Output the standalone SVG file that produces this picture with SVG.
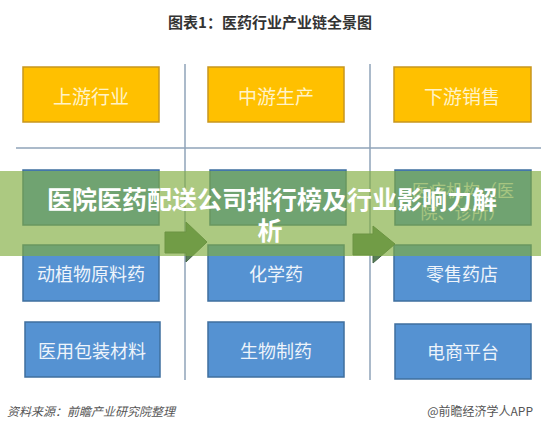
<svg xmlns="http://www.w3.org/2000/svg" width="541" height="430" viewBox="0 0 541 430">
<style>
.cjk{font-family:"Noto Sans CJK SC","Noto Sans",sans-serif}
.title{font-size:15px;font-weight:bold;fill:#333}
.yb{fill:#FFC000;stroke:#C8961E;stroke-width:1.5}
.bb{fill:#5592D2;stroke:#3F6F9E;stroke-width:1.5}
.yt{font-size:19px;fill:#FFF3C8;text-anchor:middle;dominant-baseline:central}
.bt{font-size:18px;fill:#EEF4FB;text-anchor:middle;dominant-baseline:central}
.ln{stroke:#8FA3B8;stroke-width:1.5;fill:none}
.arrow{fill:#587F56;stroke:#46674A;stroke-width:1}
.foot{font-size:12px;fill:#555}
.ov{font-size:25px;font-weight:bold;fill:#fff;text-anchor:middle}
</style>
<rect width="541" height="430" fill="#fff"/>
<text class="cjk title" x="270" y="28" text-anchor="middle">图表1：医药行业产业链全景图</text>
<g id="grid">
<line class="ln" x1="185" y1="64" x2="185" y2="380"/>
<line class="ln" x1="370" y1="64" x2="370" y2="380"/>
<line class="ln" x1="16" y1="148" x2="541" y2="148"/>
</g>
<g id="n-upstream"><rect class="yb" x="23" y="67" width="136" height="55"/><text class="cjk yt" x="91" y="95">上游行业</text></g>
<g id="n-midstream"><rect class="yb" x="208" y="67" width="136" height="55"/><text class="cjk yt" x="276" y="95">中游生产</text></g>
<g id="n-downstream"><rect class="yb" x="394" y="67" width="137" height="55"/><text class="cjk yt" x="462" y="95">下游销售</text></g>
<g id="n-r2c1"><rect class="bb" x="23" y="170" width="136" height="55"/></g>
<g id="n-r2c2"><rect class="bb" x="210" y="170" width="136" height="55"/></g>
<g id="n-r2c3"><rect class="bb" x="395" y="170" width="136" height="55"/><text class="cjk" x="463" y="189" font-size="17" fill="#EEF4FB" text-anchor="middle" dominant-baseline="central">医疗机构（医</text><text class="cjk" x="463" y="211" font-size="17" fill="#EEF4FB" text-anchor="middle" dominant-baseline="central">院、诊所）</text></g>
<g id="n-api"><rect class="bb" x="23" y="245" width="136" height="56"/><text class="cjk bt" x="91" y="273">动植物原料药</text></g>
<g id="n-chem"><rect class="bb" x="208" y="245" width="136" height="56"/><text class="cjk bt" x="276" y="273">化学药</text></g>
<g id="n-retail"><rect class="bb" x="394" y="245" width="137" height="56"/><text class="cjk bt" x="462" y="273">零售药店</text></g>
<g id="n-pack"><rect class="bb" x="25" y="322" width="135" height="55"/><text class="cjk bt" x="92" y="350">医用包装材料</text></g>
<g id="n-bio"><rect class="bb" x="208" y="322" width="136" height="55"/><text class="cjk bt" x="276" y="350">生物制药</text></g>
<g id="n-ecom"><rect class="bb" x="395" y="324" width="136" height="55"/><text class="cjk bt" x="463" y="351">电商平台</text></g>
<g id="connectors">
<path class="arrow" d="M165,232 H186 V222 L207,242 L186,262 V253 H165 Z"/>
<path class="arrow" d="M353,234 H373 V226 L395,244 L373,263 V255 H353 Z"/>
</g>
<g id="overlay">
<rect x="0" y="171" width="541" height="85" fill="rgb(128,172,62)" fill-opacity="0.65"/>
<text class="cjk ov" x="272" y="209">医院医药配送公司排行榜及行业影响力解</text>
<text class="cjk ov" x="270" y="240">析</text>
</g>
<text class="cjk foot" x="7" y="416" font-style="italic">资料来源：前瞻产业研究院整理</text>
<text class="cjk foot" x="533" y="416" text-anchor="end">@前瞻经济学人APP</text>
</svg>
